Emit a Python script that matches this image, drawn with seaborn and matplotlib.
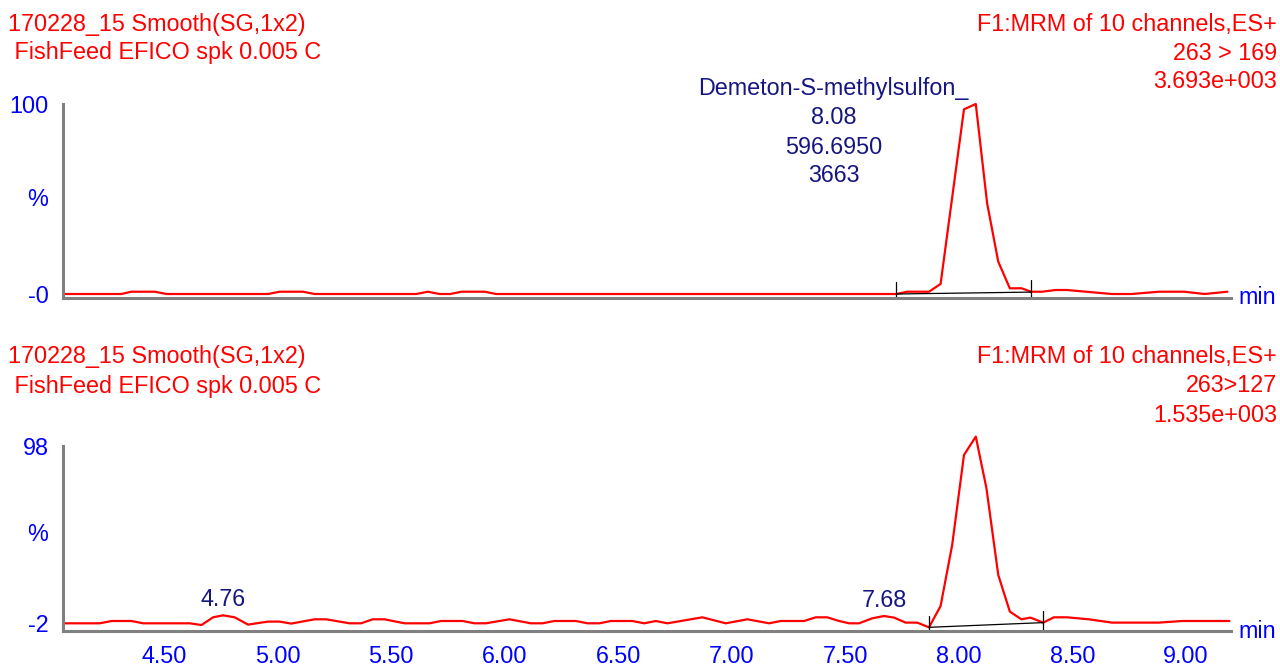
import matplotlib
matplotlib.use("Agg")
import matplotlib.pyplot as plt
import matplotlib.ticker as mticker
import matplotlib.transforms as mtransforms
import numpy as np
import pandas as pd
import seaborn as sns

# ── Style ───────────────────────────────────────────────────────
sns.set_theme(style="white")
plt.rcParams["font.family"] = ["Liberation Sans", "DejaVu Sans"]

RED = "#ff0000"
BLUE = "#0000ff"
NAVY = "#161680"
GREY = "#808080"
FS = 16.8

# ── Données : canal 263 > 169 ───────────────────────────────────
top_time = [4.055, 4.312, 4.356, 4.459, 4.511, 4.958, 5.009, 5.112, 5.163,
            5.611, 5.662, 5.713, 5.760, 5.810, 5.913, 5.962, 7.725, 7.773,
            7.869, 7.920, 8.023, 8.075, 8.125, 8.174, 8.225, 8.277, 8.319,
            8.367, 8.426, 8.476, 8.674, 8.762, 8.881, 8.993, 9.083, 9.183]
top_pct = [0.0, 0.0, 1.2, 1.2, 0.0, 0.0, 1.2, 1.2, 0.0,
           0.0, 1.2, 0.0, 0.0, 1.2, 1.2, 0.0, 0.0, 1.2,
           1.2, 5.3, 97.2, 100.0, 47.7, 17.0, 3.0, 3.0, 1.2,
           1.2, 2.1, 2.1, 0.0, 0.0, 1.2, 1.2, 0.0, 1.2]
top_int_t = [7.725, 8.319]      # bornes d'intégration
top_int_y = [0.0, 1.0]

# ── Données : canal 263 > 127 ───────────────────────────────────
bot_time = [4.056, 4.217, 4.269, 4.357, 4.408, 4.613, 4.665, 4.716, 4.760,
            4.811, 4.870, 4.958, 5.009, 5.060, 5.163, 5.214, 5.317, 5.368,
            5.419, 5.471, 5.559, 5.669, 5.720, 5.815, 5.867, 5.918, 6.021,
            6.116, 6.167, 6.219, 6.314, 6.365, 6.417, 6.468, 6.563, 6.615,
            6.666, 6.717, 6.871, 6.974, 7.069, 7.165, 7.216, 7.319, 7.370,
            7.421, 7.473, 7.517, 7.561, 7.619, 7.671, 7.715, 7.766, 7.817,
            7.869, 7.920, 7.971, 8.023, 8.075, 8.122, 8.174, 8.225, 8.276,
            8.316, 8.372, 8.419, 8.477, 8.573, 8.675, 8.881, 8.984, 9.192]
bot_pct = [-2.00, -2.00, -0.70, -0.70, -2.00, -2.00, -2.96, 1.38, 2.51,
           1.38, -2.73, -1.04, -1.04, -2.17, 0.26, 0.26, -2.00, -2.00,
           0.26, 0.26, -2.00, -2.00, -0.70, -0.70, -2.00, -2.00, 0.26,
           -2.00, -2.00, -0.70, -0.70, -2.00, -2.00, -0.70, -0.70, -2.00,
           -0.70, -2.00, 1.38, -2.00, 0.26, -2.00, -0.70, -0.70, 1.38,
           1.38, -0.70, -2.00, -2.00, 0.82, 2.12, 1.21, -1.61, -1.61,
           -4.26, 7.76, 42.16, 92.92, 103.30, 74.14, 25.24, 4.60, 0.26,
           1.21, -1.61, 1.38, 1.38, 0.26, -1.61, -1.61, -0.70, -0.70]
bot_int_t = [7.869, 8.372]
bot_int_y = [-4.26, -1.61]

x_range = (4.055, 9.199)

fig = plt.figure(figsize=(12.8, 6.66), dpi=100)
W, H = 1280, 666


def px(x, y):
    return x / W, 1 - y / H


ax_top = fig.add_axes([63 / W, 1 - 297.5 / H, 1168 / W, 193.5 / H])
ax_bot = fig.add_axes([63 / W, 1 - 630.7 / H, 1168 / W, 184.7 / H])

panels = [
    (ax_top, top_time, top_pct, top_int_t, top_int_y, (-1.842, 100), 0, 100, "-0", "100"),
    (ax_bot, bot_time, bot_pct, bot_int_t, bot_int_y, (-6.17, 98), -2, 98, "-2", "98"),
]

for ax, t, p, it, iy, ylim, y0, y1, lab0, lab1 in panels:
    df = pd.DataFrame({"time": t, "pct": p})
    sns.lineplot(data=df, x="time", y="pct", ax=ax, color=RED, linewidth=1.6,
                 estimator=None, sort=False, clip_on=False)
    # ligne de base de l'intégration + repères
    ax.plot(it, iy, color="black", linewidth=0.9, clip_on=False)
    for tt, yy in zip(it, iy):
        ax.plot([tt, tt], [ylim[0] + 0.2, yy + 6.5], color="black",
                linewidth=0.9, clip_on=False)

    ax.set_xlim(*x_range)
    ax.set_ylim(*ylim)
    ax.set_xlabel("")
    ax.set_ylabel("")
    for side in ["top", "right"]:
        ax.spines[side].set_visible(False)
    for side in ["left", "bottom"]:
        ax.spines[side].set_color(GREY)
        ax.spines[side].set_linewidth(2.2)

    ax.xaxis.set_major_locator(mticker.MultipleLocator(0.25))
    ax.xaxis.set_minor_locator(mticker.MultipleLocator(0.05))
    ax.xaxis.set_major_formatter(mticker.FuncFormatter(
        lambda v, pos: f"{v:.2f}" if abs(v * 2 - round(v * 2)) < 1e-6 else ""))
    ax.tick_params(axis="x", which="major", direction="out", length=7.5, width=1.3,
                   color=GREY, labelcolor=BLUE, labelsize=FS, pad=3)
    ax.tick_params(axis="x", which="minor", direction="out", length=3.8, width=1.1,
                   color=GREY)

    yt = list(range(y0, y1 + 1, 10))
    ax.set_yticks(yt)
    ax.set_yticklabels([lab0] + [""] * (len(yt) - 2) + [lab1])
    ax.tick_params(axis="y", direction="out", length=5.8, width=1.3, color=GREY,
                   labelcolor=BLUE, labelsize=FS, pad=4.5)
    trans = mtransforms.blended_transform_factory(ax.transAxes, ax.transData)
    ax.text(-0.0214, (y0 + y1) / 2, "%", transform=trans, color=BLUE,
            fontsize=FS, ha="center", va="center")
    ax.grid(False)

ax_top.tick_params(axis="x", labelbottom=False)

# ── Annotations des pics ────────────────────────────────────────
apex = (top_time[21], top_pct[21])
for txt, dy in [("Demeton-S-methylsulfon_", 16), ("8.08", -14),
                ("596.6950", -43), ("3663", -72)]:
    ax_top.annotate(txt, xy=apex, xytext=(-142, dy), textcoords="offset pixels",
                    ha="center", va="center", color=NAVY, fontsize=FS)

for i, lab in [(8, "4.76"), (50, "7.68")]:
    ax_bot.annotate(lab, xy=(bot_time[i], bot_pct[i]), xytext=(0, 16),
                    textcoords="offset pixels", ha="center", va="center",
                    color=NAVY, fontsize=FS)

# ── En-têtes ────────────────────────────────────────────────────
for dy, chan, inten in [(0, "263 > 169", "3.693e+003"), (333, "263>127", "1.535e+003")]:
    fig.text(*px(8, 24 + dy), "170228_15 Smooth(SG,1x2)", color=RED,
             fontsize=FS, ha="left", va="center")
    fig.text(*px(8, 53 + dy), " FishFeed EFICO spk 0.005 C", color=RED,
             fontsize=FS, ha="left", va="center")
    fig.text(*px(1277, 24 + dy), "F1:MRM of 10 channels,ES+", color=RED,
             fontsize=FS, ha="right", va="center")
    fig.text(*px(1277, 53 + dy), chan, color=RED, fontsize=FS, ha="right", va="center")
    fig.text(*px(1277, 82 + dy), inten, color=RED, fontsize=FS, ha="right", va="center")
    fig.text(*px(1238, 298 + dy), "min", color=BLUE, fontsize=FS, ha="left", va="center")

fig.savefig("out.png", dpi=100)
